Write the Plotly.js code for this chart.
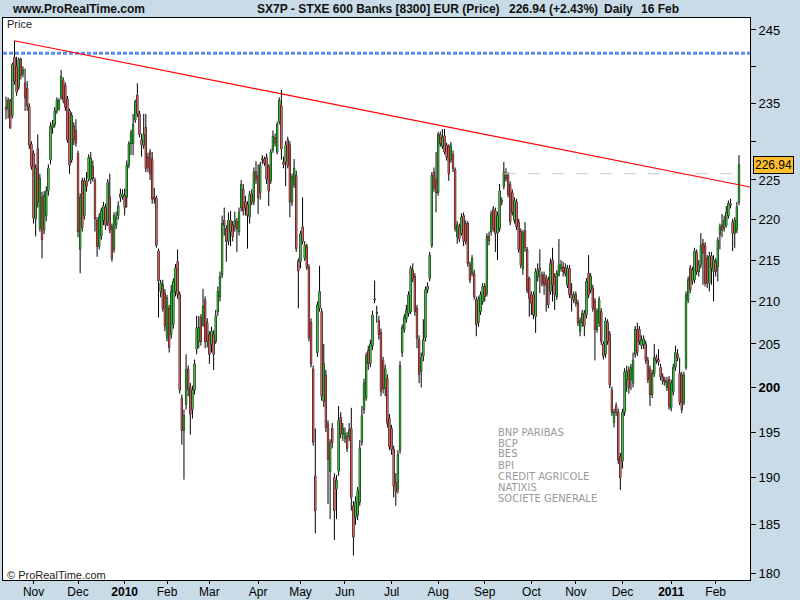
<!DOCTYPE html>
<html><head><meta charset="utf-8">
<script src="https://cdn.plot.ly/plotly-3.0.1.min.js"></script>
<style>html,body{margin:0;padding:0;background:#c8dbe6;} #chart{width:800px;height:600px;}</style>
</head><body><div id="chart"></div>
<script>
// ---- Data (SX7P daily OHLC, 14 Oct 2009 -> 16 Feb 2011) ----
const openP = [
234.5,234.3,235.4,233.4,241.2,240.0,237.2,240.9,239.0,237.7,
237.0,234.6,229.6,228.4,220.1,229.0,218.9,222.8,218.7,220.5,
223.6,227.6,231.8,232.2,234.0,234.3,235.8,238.1,237.4,235.6,
234.0,227.6,232.0,231.4,228.4,216.3,224.9,220.5,224.9,225.1,
225.1,226.7,224.9,219.9,216.7,218.0,219.9,221.5,219.7,222.8,
219.1,216.3,219.3,220.5,222.8,222.9,223.0,222.8,226.9,229.7,
229.7,232.8,236.1,233.6,230.2,229.5,231.8,227.9,228.6,227.7,
222.8,222.7,216.1,211.2,212.0,211.0,205.7,209.2,206.1,207.3,
211.2,214.8,210.8,198.8,195.2,198.1,202.1,200.0,197.5,199.7,
204.4,205.3,208.1,207.3,210.2,207.5,206.1,204.9,206.1,205.3,
208.8,210.6,213.2,219.9,218.9,217.3,219.9,219.3,219.1,219.7,
218.5,221.5,223.8,222.2,221.9,220.3,223.2,222.2,226.0,225.5,
223.4,227.6,227.7,227.9,226.7,224.9,228.9,230.4,228.6,232.6,
234.7,227.3,227.3,230.2,229.5,222.2,224.4,225.6,214.9,214.8,
219.1,215.2,216.7,214.1,207.5,202.1,190.2,204.0,209.2,208.8,
198.4,201.4,195.9,190.7,195.4,190.0,188.8,190.7,196.6,194.8,
194.3,194.5,194.5,195.4,187.0,185.8,186.0,187.4,193.9,197.5,
198.8,204.2,202.7,204.8,210.2,208.6,207.7,206.3,203.1,199.9,
201.0,196.5,195.4,193.1,189.5,188.8,193.0,204.0,206.7,207.9,
208.6,208.8,213.7,213.0,209.2,205.5,201.8,203.6,205.7,211.4,
212.8,216.8,226.0,225.1,223.4,230.9,229.3,230.7,229.5,229.3,
227.6,228.3,226.3,217.9,219.1,218.3,220.5,219.5,219.5,214.4,
213.4,213.4,210.2,207.5,208.8,210.0,211.8,211.0,217.9,218.5,
221.3,221.1,218.3,218.9,222.4,224.2,225.8,225.6,224.4,223.4,
219.9,222.2,219.7,218.5,214.0,218.6,216.3,212.8,210.8,210.8,
208.2,213.0,214.0,213.2,213.2,212.8,212.6,211.2,215.0,213.0,
210.6,213.2,214.0,214.1,214.1,212.0,214.0,210.8,210.2,210.8,
209.8,206.5,207.5,208.6,208.4,213.4,211.4,211.6,210.0,206.7,
207.5,208.8,205.0,203.8,207.5,206.1,199.7,196.1,197.9,197.2,
192.3,191.8,197.2,200.9,202.0,200.9,200.5,203.8,206.7,206.7,
204.8,205.0,205.0,203.1,202.1,199.2,201.6,203.4,203.2,202.3,
201.2,200.8,200.0,200.9,197.7,199.5,202.3,203.8,201.6,201.4,
198.3,202.3,210.2,214.0,212.4,212.6,215.9,213.6,214.4,217.0,
216.8,215.2,212.2,215.5,213.6,214.8,214.2,218.1,219.3,218.9,
219.3,220.5,222.0,219.7,218.3,218.7,222.2];
const highP = [
235.9,235.8,235.6,240.5,243.5,241.3,241.2,241.2,240.0,239.7,
238.0,235.0,230.0,228.8,227.0,230.9,225.8,223.5,223.6,224.2,
227.0,232.5,232.8,234.5,235.8,235.7,239.5,238.5,237.8,236.0,
234.3,233.8,232.5,232.9,228.8,223.3,225.3,225.3,226.0,228.3,
228.6,227.5,225.3,220.3,220.8,221.5,222.2,222.0,225.1,225.8,
219.5,220.9,221.0,222.3,223.9,223.8,223.9,227.5,230.0,231.5,
233.6,235.5,237.7,234.0,231.0,233.6,233.6,228.5,229.0,228.6,
224.0,223.0,216.4,212.6,212.6,211.5,210.8,209.6,212.0,212.8,
214.5,216.3,211.2,199.2,197.5,203.8,202.5,200.5,200.2,203.2,
208.3,208.3,208.5,211.5,210.6,208.0,206.5,207.0,206.6,209.0,
211.8,213.6,220.5,221.5,219.3,220.9,221.1,219.8,221.0,220.2,
221.5,225.0,224.5,223.0,222.3,223.6,223.8,226.6,227.4,227.0,
227.3,228.2,228.0,228.4,227.0,229.0,231.4,231.0,232.6,235.8,
236.8,228.0,230.0,230.6,230.0,225.8,227.7,226.2,215.2,218.6,
222.8,217.3,217.0,214.5,208.0,202.5,195.4,210.0,214.3,209.2,
205.0,202.0,196.3,194.2,196.0,190.5,190.3,197.9,197.2,196.0,
195.5,195.0,196.0,197.7,187.5,188.0,189.0,194.1,197.9,201.0,
204.0,204.8,205.5,208.9,212.5,209.5,208.3,206.8,203.5,202.6,
201.5,197.0,195.8,193.5,190.5,193.0,203.0,207.3,208.5,209.6,
211.2,214.3,214.6,213.4,209.6,206.0,204.0,207.9,211.8,212.3,
216.0,226.0,226.6,228.6,231.2,231.3,231.6,231.6,229.8,229.6,
229.9,228.8,226.6,219.8,219.5,220.8,220.9,219.9,219.8,214.8,
215.6,213.8,210.6,210.6,211.2,212.2,212.2,218.3,218.5,221.1,
221.7,221.5,221.0,224.5,222.8,227.3,226.5,226.0,224.8,223.8,
222.8,222.6,220.1,218.9,218.7,219.7,216.6,213.0,211.2,211.2,
214.0,214.6,216.3,213.6,213.6,213.2,213.0,215.2,216.5,213.4,
213.8,217.6,215.0,214.8,214.6,214.4,214.4,212.2,211.2,211.2,
210.2,208.1,209.0,209.0,212.8,215.6,213.4,212.0,210.4,209.2,
210.6,209.2,205.3,208.1,207.9,206.5,200.1,197.6,198.3,197.6,
192.7,197.6,202.2,202.5,202.4,202.7,204.0,207.1,207.5,207.1,
206.0,206.0,205.4,203.5,202.5,202.0,205.0,203.8,204.4,202.7,
201.6,201.2,201.2,201.3,200.9,202.7,204.8,204.4,203.4,201.8,
201.8,211.2,213.0,214.4,214.2,216.5,216.3,215.0,218.3,217.6,
217.2,215.6,216.0,216.0,215.6,215.2,217.8,219.5,220.7,220.5,
221.7,222.4,222.6,220.1,220.3,222.2,228.2];
const lowP = [
232.9,233.0,231.6,233.0,237.5,236.0,236.8,238.2,238.5,234.0,
234.0,229.0,226.3,219.5,217.9,221.5,218.5,215.2,218.2,219.8,
223.0,227.0,231.0,231.8,233.6,234.0,235.5,235.0,234.0,229.8,
225.8,227.2,229.5,229.3,217.8,213.4,218.5,220.0,223.5,224.8,
224.5,224.8,218.5,215.4,216.3,217.5,219.3,218.7,219.2,218.3,
214.8,215.9,218.8,220.0,222.2,222.5,220.5,221.5,226.5,228.2,
228.2,232.4,233.2,230.5,228.0,229.0,226.0,226.0,225.0,222.0,
222.0,216.5,208.1,210.5,208.8,206.5,205.3,204.0,205.6,206.8,
210.6,210.3,199.3,193.6,189.8,197.5,199.0,194.7,196.5,199.2,
203.8,204.5,204.8,207.0,204.5,204.6,202.7,204.0,202.0,205.0,
208.3,210.0,212.8,218.0,214.8,216.8,216.7,217.3,218.5,216.0,
218.0,221.0,220.5,220.5,216.4,219.5,221.8,221.8,224.5,220.7,
222.5,227.0,226.8,224.5,221.7,224.5,228.5,229.3,228.3,232.2,
227.6,226.5,224.2,226.5,220.3,221.7,224.0,216.0,209.2,214.0,
216.9,214.9,213.8,205.3,202.3,193.5,184.1,203.5,208.8,198.5,
197.8,195.0,187.2,185.6,193.2,183.4,185.6,190.2,194.3,194.0,
193.8,192.8,194.0,186.5,181.8,185.0,185.5,187.0,193.5,197.0,
198.5,202.0,202.3,204.3,209.8,207.5,205.5,199.0,199.3,199.0,
195.5,193.0,192.5,187.9,187.0,188.3,192.6,203.5,206.3,207.5,
208.2,208.5,212.3,208.3,204.5,200.5,200.0,203.0,205.3,211.0,
212.4,216.5,223.5,220.9,223.0,229.3,229.0,228.3,227.5,224.9,
227.2,226.0,218.5,217.0,217.2,218.0,216.7,216.9,214.2,212.2,
213.0,210.2,205.9,207.0,208.4,209.6,210.0,210.6,216.8,218.0,
218.5,216.0,215.0,218.5,221.8,223.8,224.8,222.8,219.3,220.5,
219.5,218.7,215.9,214.0,213.2,216.0,211.0,208.2,208.4,207.9,
206.3,212.4,211.0,211.8,210.8,208.8,209.2,210.8,210.0,209.0,
210.2,213.0,213.6,213.0,213.0,211.6,210.4,208.8,209.8,209.4,
207.1,205.9,207.0,205.9,208.0,210.4,211.0,208.8,203.1,206.3,
207.0,204.9,203.2,203.4,204.9,199.9,196.8,195.5,196.8,191.5,
188.7,191.0,196.8,199.5,199.3,199.7,200.0,203.4,203.6,204.9,
204.4,204.4,202.7,200.5,197.9,198.8,201.2,202.7,202.5,200.8,
200.3,200.2,199.6,197.5,197.3,199.1,201.9,203.0,198.0,197.1,
198.0,202.0,209.8,211.0,212.0,212.2,213.2,213.0,214.0,212.0,
211.8,211.6,211.2,212.0,210.0,213.0,212.4,216.3,217.8,218.5,
219.0,220.1,221.4,216.1,216.5,218.3,221.8];
const closeP = [
234.2,235.4,231.8,240.2,237.9,236.5,240.9,238.8,239.5,235.8,
234.7,229.5,226.7,220.2,226.5,222.2,225.2,217.5,223.0,223.6,
226.5,232.0,232.2,234.0,235.4,235.4,238.6,235.5,234.5,230.2,
226.9,233.4,230.2,229.8,218.5,222.8,219.0,224.9,224.2,227.9,
227.8,225.2,220.1,216.7,220.3,221.1,221.7,219.3,224.7,218.7,
215.2,220.5,220.3,221.7,223.2,223.2,221.5,226.9,229.7,231.1,
232.2,235.2,233.6,230.9,229.5,230.9,226.5,226.7,225.8,222.6,
222.6,216.8,212.5,212.2,209.2,207.1,210.4,204.6,211.2,212.4,
214.0,210.8,199.7,195.2,196.8,202.0,199.8,197.0,199.7,202.7,
206.9,206.9,205.3,209.4,205.3,205.3,203.8,206.5,203.8,208.3,
211.2,213.0,219.5,219.3,217.3,219.9,218.5,217.9,219.9,218.9,
220.9,224.4,221.1,221.5,220.5,223.2,222.2,226.0,225.1,222.8,
226.9,227.7,227.2,225.1,223.6,228.6,230.6,229.8,232.2,235.4,
229.0,227.0,229.5,226.9,222.2,225.4,226.5,216.4,213.7,218.2,
217.3,216.8,214.1,205.7,202.7,193.9,186.5,209.6,211.2,199.0,
202.7,195.5,192.0,193.8,193.8,186.5,189.7,196.3,194.8,195.4,
194.8,193.2,195.2,187.9,183.7,187.4,188.6,193.2,196.8,200.5,
203.6,202.7,205.0,208.4,210.3,208.7,206.1,199.6,199.9,202.1,
196.0,193.4,193.1,189.1,188.5,192.5,202.5,206.9,208.1,209.0,
210.8,214.0,212.8,208.8,205.7,201.5,203.4,205.5,211.4,211.8,
215.6,225.6,224.0,223.4,230.9,229.7,230.5,228.6,227.9,225.8,
229.5,226.5,218.9,219.3,217.6,220.3,217.3,217.3,214.6,212.6,
215.2,210.6,207.3,210.2,210.8,211.8,210.6,217.9,217.4,220.7,
218.9,218.3,220.5,223.6,222.2,226.0,225.2,223.2,219.7,220.9,
222.4,219.1,216.3,214.4,218.3,216.5,211.4,210.4,209.8,208.4,
213.6,213.8,213.8,212.2,212.0,212.0,209.6,214.6,212.0,210.8,
213.4,214.4,214.4,213.6,213.4,214.0,210.8,210.4,210.8,209.8,
207.5,207.7,208.6,207.1,212.4,210.8,213.0,209.2,206.7,208.8,
210.2,205.3,203.6,207.7,205.3,200.3,197.2,197.2,197.2,192.0,
190.0,197.2,201.8,201.8,200.0,202.3,203.1,206.7,204.0,205.3,
205.5,205.6,203.1,200.9,199.2,201.6,203.4,203.1,202.9,201.2,
200.7,200.6,200.7,197.9,200.5,202.3,204.0,203.4,198.3,197.5,
201.4,210.8,212.6,211.4,213.8,216.1,213.6,214.4,216.8,215.9,
212.2,212.2,215.5,214.0,215.0,213.6,217.4,219.1,218.7,219.9,
220.9,222.0,221.8,218.3,219.9,221.56,226.94];

const monthLabels = ['Nov','Dec','2010','Feb','Mar','Apr','May','Jun','Jul','Aug','Sep','Oct','Nov','Dec','2011','Feb'];
const yTickVals = [180,185,190,195,200,205,210,215,220,225,230,235,240,245];
const yTickText = ['180','185','190','195','<b>200</b>','205','210','215','220','225','','235','','245'];
const banks = ['BNP PARIBAS','BCP','BES','BPI','CREDIT AGRICOLE','NATIXIS','SOCIETE GENERALE'];
const trendX = [4, 351.2];
const trendY = [243.5, 224.1];
const resistanceLevel = 241.8;
const priorHighLevel = 225.8;
const priorHighRange = [235, 347];
const titleMain = 'SX7P - STXE 600 Banks [8300] EUR (Price)';
const titleQuote = '226.94 (+2.43%)';

// ---- trading calendar ----
const holidays = new Set(['2009-12-25','2010-01-01','2010-04-02','2010-04-05']);
const dates = [];
for (let d = new Date(Date.UTC(2009,9,14)); d <= new Date(Date.UTC(2011,1,16)); d.setUTCDate(d.getUTCDate()+1)) {
  const wd = d.getUTCDay(); const s = d.toISOString().slice(0,10);
  if (wd === 0 || wd === 6 || holidays.has(s)) continue;
  dates.push(s);
}
const idx = closeP.map((_, i) => i);
const tickIdx = [];
for (let i = 1; i < dates.length; i++) if (dates[i].slice(0,7) !== dates[i-1].slice(0,7)) tickIdx.push(i);
const tickText = monthLabels.map(m => /^\d{4}$/.test(m) ? '<b>' + m + '</b>' : m);

// ---- layout helpers (pixel -> paper) ----
const PL = 3, PR = 750, PT = 18, PB = 580;
const px = x => (x - PL) / (PR - PL);
const py = y => (PB - y) / (PB - PT);
const xMin = -1.42, xMax = 351.2;

const candleBase = {type:'candlestick', x: idx, open: openP, high: highP, low: lowP, close: closeP,
  whiskerwidth:0, hoverinfo:'skip', showlegend:false};
const traces = [
  Object.assign({}, candleBase, {
   increasing:{line:{color:'#000', width:1}, fillcolor:'#000'},
   decreasing:{line:{color:'#000', width:1}, fillcolor:'#000'}}),
  Object.assign({}, candleBase, {
   increasing:{line:{color:'rgba(0,0,0,0)', width:0}, fillcolor:'#35c335'},
   decreasing:{line:{color:'rgba(0,0,0,0)', width:0}, fillcolor:'#df5b5b'}}),
  {type:'scatter', mode:'lines', x:[xMin, xMax], y:[resistanceLevel, resistanceLevel],
   line:{color:'#5b8ef5', width:3, dash:'4px,2px'}, hoverinfo:'skip', showlegend:false},
  {type:'scatter', mode:'lines', x:priorHighRange, y:[priorHighLevel, priorHighLevel],
   line:{color:'#c8c8c8', width:1, dash:'12px,12px'}, hoverinfo:'skip', showlegend:false},
  {type:'scatter', mode:'lines', x:trendX, y:trendY,
   line:{color:'#ff0000', width:1.2}, hoverinfo:'skip', showlegend:false}
];

const ann = [];
const tf = {family:'Liberation Sans, Arial, sans-serif', size:12, color:'#111'};
const titleY = py(9);
ann.push({xref:'paper', yref:'paper', x:px(10), y:titleY, xanchor:'left', yanchor:'middle', text:'<b>www.ProRealTime.com</b>', showarrow:false, font:tf});
ann.push({xref:'paper', yref:'paper', x:px(255), y:titleY, xanchor:'left', yanchor:'middle', text:'<b>'+titleMain+'</b>', showarrow:false, font:tf});
ann.push({xref:'paper', yref:'paper', x:px(507), y:titleY, xanchor:'left', yanchor:'middle', text:'<b>'+titleQuote+'</b>', showarrow:false, font:tf});
ann.push({xref:'paper', yref:'paper', x:px(602), y:titleY, xanchor:'left', yanchor:'middle', text:'<b>Daily</b>', showarrow:false, font:tf});
ann.push({xref:'paper', yref:'paper', x:px(639), y:titleY, xanchor:'left', yanchor:'middle', text:'<b>16 Feb</b>', showarrow:false, font:tf});
ann.push({xref:'paper', yref:'paper', x:px(5), y:py(24), xanchor:'left', yanchor:'middle', text:'Price', showarrow:false, font:{family:'Liberation Sans, Arial', size:11, color:'#222'}});
ann.push({xref:'paper', yref:'paper', x:px(5), y:py(575), xanchor:'left', yanchor:'middle', text:'© ProRealTime.com', showarrow:false, font:{family:'Liberation Sans, Arial', size:11, color:'#222'}});
banks.forEach((b, i) => ann.push({xref:'paper', yref:'paper', x:px(496), y:py(432 + 11*i), xanchor:'left', yanchor:'middle', text:b, showarrow:false, font:{family:'DejaVu Sans, sans-serif', size:10, color:'#9a9a9a'}}));
ann.push({xref:'paper', yref:'y', x:px(753), y:Math.log10(closeP[closeP.length-1]), xanchor:'left', yanchor:'middle',
  text: closeP[closeP.length-1].toFixed(2), showarrow:false, bgcolor:'#fdbf2d', bordercolor:'#000', borderwidth:1, borderpad:1,
  font:{family:'Liberation Sans, Arial', size:12, color:'#000'}});

const layout = {
  width:800, height:600,
  margin:{l:PL, r:800-PR, t:PT, b:600-PB, pad:0},
  paper_bgcolor:'#c8dbe6', plot_bgcolor:'#ffffff',
  font:{family:'Liberation Sans, Arial, sans-serif', size:12, color:'#000'},
  showlegend:false, hovermode:false, boxgap:0.15, boxmode:'overlay',
  xaxis:{type:'linear', range:[xMin, xMax], rangeslider:{visible:false}, tickmode:'array', tickvals:tickIdx, ticktext:tickText,
    ticks:'outside', ticklen:3, tickcolor:'#000', showgrid:false, zeroline:false, showline:true, mirror:true, linecolor:'#000', linewidth:1,
    tickfont:{size:12, color:'#000'}, ticklabelstandoff:-2},
  yaxis:{type:'log', side:'right', range:[Math.log10(179.29), Math.log10(246.67)], tickmode:'array', tickvals:yTickVals, ticktext:yTickText,
    ticks:'outside', ticklen:5, tickcolor:'#000', showgrid:false, zeroline:false, showline:true, mirror:true, linecolor:'#000', linewidth:1,
    tickfont:{size:13, color:'#000'}},
  annotations: ann
};
Plotly.newPlot('chart', traces, layout, {staticPlot:true, displayModeBar:false});
</script>
</body></html>
